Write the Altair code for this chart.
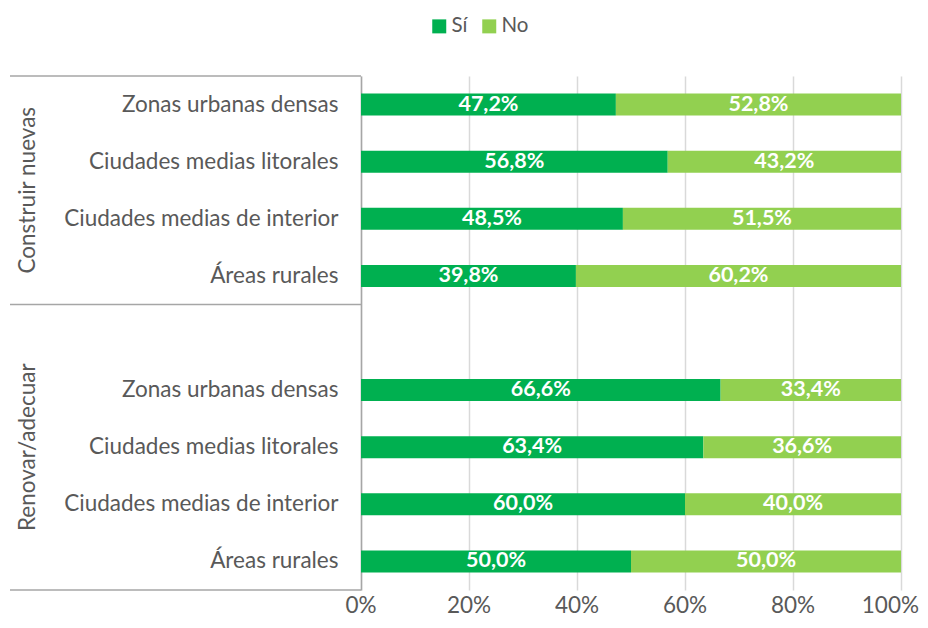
import altair as alt
import pandas as pd

groups = ["Construir nuevas", "Renovar/adecuar"]
areas = ["Zonas urbanas densas", "Ciudades medias litorales",
         "Ciudades medias de interior", "Áreas rurales"]
si_construir = [47.2, 56.8, 48.5, 39.8]
no_construir = [52.8, 43.2, 51.5, 60.2]
si_renovar = [66.6, 63.4, 60.0, 50.0]
no_renovar = [33.4, 36.6, 40.0, 50.0]
series = ["Sí", "No"]
colors = ["#00B050", "#92D050"]
x_ticks = [0, 20, 40, 60, 80, 100]

FONT = "Lato"
GRAY = "#595959"
LINE = "#A6A6A6"
FS = 22.5
FS_SMALL = 21.5

def fmt(v):
    return f"{v:.1f}%".replace(".", ",")

rows = []
for g, si, no in [(groups[0], si_construir, no_construir),
                  (groups[1], si_renovar, no_renovar)]:
    for a, s, n in zip(areas, si, no):
        key = f"{g}|{a}"
        rows.append(dict(key=key, serie=series[0], order=0, value=s, label=fmt(s)))
        rows.append(dict(key=key, serie=series[1], order=1, value=n, label=fmt(n)))
df = pd.DataFrame(rows)

domain = [f"{groups[0]}|{a}" for a in areas] + ["gap|"] + [f"{groups[1]}|{a}" for a in areas]

W, H = 540, 514

base = alt.Chart(df).transform_stack(
    stack="value", groupby=["key"], as_=["x0", "x1"], sort=[alt.SortField("order")]
).transform_calculate(mid="(datum.x0 + datum.x1) / 2")

yenc = alt.Y(
    "key:N",
    scale=alt.Scale(domain=domain, paddingInner=0.615, paddingOuter=0.3075),
    axis=alt.Axis(title=None, labelExpr="split(datum.label, '|')[1]", ticks=False,
                  domainColor=LINE, domainWidth=1.5, labelFont=FONT, labelFontSize=FS,
                  labelColor=GRAY, labelPadding=23, labelLimit=400),
)

xscale = alt.Scale(domain=[0, 100], nice=False)

bars = base.mark_bar().encode(
    x=alt.X("x0:Q", scale=xscale,
            axis=alt.Axis(values=x_ticks, grid=True, gridColor="#D9D9D9", gridWidth=1.5,
                          domain=False, ticks=False, labels=False, title=None)),
    x2="x1:Q",
    y=yenc,
    color=alt.Color("serie:N", scale=alt.Scale(domain=series, range=colors),
                    legend=alt.Legend(orient="none", legendX=68, legendY=-60,
                                      direction="horizontal", title=None,
                                      symbolType="square", symbolSize=196,
                                      symbolStrokeWidth=0, labelFont=FONT,
                                      labelFontSize=20.5, labelColor=GRAY,
                                      columnPadding=11, labelOffset=2)),
)

texts = base.mark_text(color="white", fontWeight="bold", fontSize=FS_SMALL, font=FONT).encode(
    x="mid:Q", y=alt.Y("key:N"), text="label:N"
)

tick_df = pd.DataFrame({"t": x_ticks, "txt": [f"{t}%" for t in x_ticks]})
xlab_mid = alt.Chart(tick_df).transform_filter("datum.t < 100").mark_text(
    font=FONT, fontSize=FS, color=GRAY, align="center", baseline="alphabetic"
).encode(x=alt.X("t:Q", scale=xscale), y=alt.value(H + 23), text="txt:N")
xlab_end = alt.Chart(tick_df).transform_filter("datum.t == 100").mark_text(
    font=FONT, fontSize=FS, color=GRAY, align="right", baseline="alphabetic", dx=18
).encode(x=alt.X("t:Q", scale=xscale), y=alt.value(H + 23), text="txt:N")

one = pd.DataFrame({"a": [0]})
rules = [
    alt.Chart(one).mark_rule(color=LINE, strokeWidth=1.5).encode(
        x=alt.value(-351), x2=alt.value(0), y=alt.value(yv))
    for yv in [0, H * 4 / 9, H]
]

glabels = [
    alt.Chart(one).mark_text(angle=270, font=FONT, fontSize=FS, color=GRAY,
                             align="center", baseline="middle").encode(
        x=alt.value(-333), y=alt.value(yv), text=alt.value(t))
    for t, yv in [(groups[0], H * 2 / 9), (groups[1], H * 6.5 / 9)]
]

chart = alt.layer(bars, texts, xlab_mid, xlab_end, *rules, *glabels).properties(
    width=W, height=H,
    padding={"left": 353, "top": 68, "right": 19, "bottom": 30},
    autosize=alt.AutoSizeParams(type="none"),
).configure_view(stroke=None)

chart.save("out.html", embed_options={"renderer": "svg", "actions": False})
